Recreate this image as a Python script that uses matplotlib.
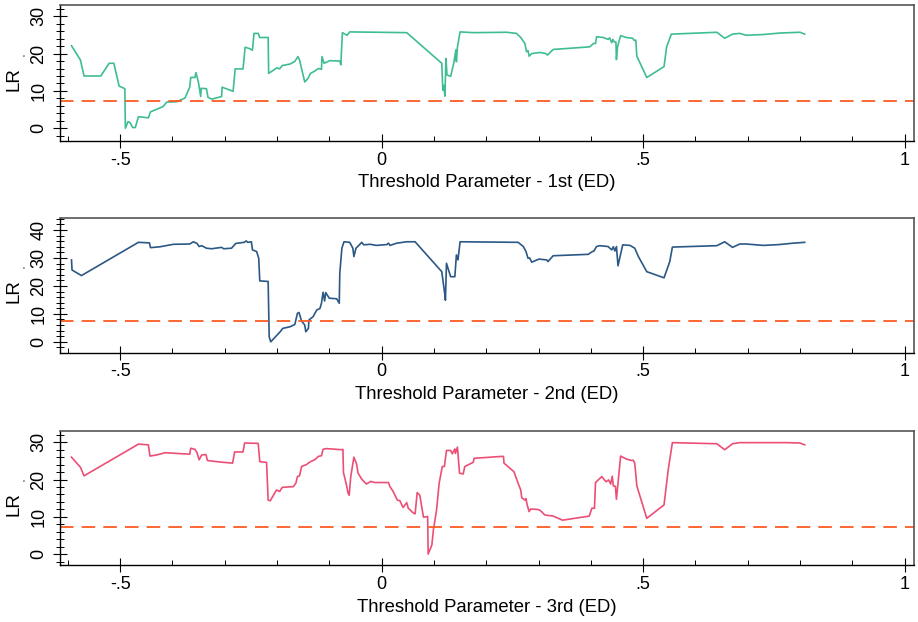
import matplotlib
matplotlib.use("Agg")
import matplotlib.pyplot as plt
from matplotlib.ticker import MultipleLocator, FixedLocator

plt.rcParams['font.family'] = ['Liberation Sans', 'DejaVu Sans']

# ---------------- data ----------------
crit = 7.35

x1 = [-0.593, -0.576, -0.569, -0.537, -0.521, -0.512, -0.502, -0.491, -0.490, -0.485, -0.481,
      -0.476, -0.471, -0.465, -0.446, -0.442, -0.430, -0.418, -0.411, -0.392, -0.376, -0.367,
      -0.365, -0.357, -0.355, -0.350, -0.346, -0.345, -0.335, -0.332, -0.325, -0.306, -0.305,
      -0.284, -0.280, -0.265, -0.261, -0.252, -0.247, -0.244, -0.236, -0.233, -0.217, -0.216,
      -0.200, -0.195, -0.190, -0.175, -0.166, -0.160, -0.157, -0.147, -0.141, -0.136, -0.128,
      -0.121, -0.115, -0.114, -0.110, -0.099, -0.080, -0.078, -0.075, -0.066, -0.061, 0.048,
      0.115, 0.117, 0.119, 0.121, 0.123, 0.125, 0.132, 0.138, 0.142, 0.143, 0.145, 0.150,
      0.175, 0.239, 0.258, 0.266, 0.274, 0.277, 0.280, 0.282, 0.287, 0.303, 0.314, 0.317,
      0.328, 0.398, 0.405, 0.409, 0.411, 0.424, 0.433, 0.436, 0.440, 0.442, 0.445, 0.448,
      0.449, 0.451, 0.457, 0.468, 0.480, 0.483, 0.486, 0.488, 0.507, 0.540, 0.545, 0.554,
      0.641, 0.656, 0.671, 0.685, 0.697, 0.730, 0.762, 0.800, 0.809]
y1 = [22.1, 18.3, 14.0, 14.0, 17.4, 17.4, 11.3, 10.6, 0.0, 1.8, 1.5,
      0.2, 0.2, 3.1, 2.8, 4.4, 5.1, 5.8, 7.0, 7.1, 8.1, 11.0,
      13.6, 13.6, 14.9, 12.1, 8.5, 10.7, 10.6, 8.3, 7.8, 8.5, 11.0,
      9.9, 15.9, 15.9, 21.7, 21.3, 20.9, 25.4, 25.4, 24.3, 24.3, 14.7,
      16.2, 15.9, 16.8, 17.2, 17.9, 19.2, 18.3, 12.4, 13.3, 14.7, 15.3,
      16.0, 15.8, 19.2, 17.4, 18.1, 18.0, 17.0, 25.6, 24.9, 25.8, 25.6,
      17.4, 10.2, 11.5, 8.6, 18.7, 14.3, 13.9, 17.5, 21.0, 17.8, 21.8, 25.8,
      25.6, 25.7, 25.4, 24.3, 22.7, 20.5, 20.8, 19.3, 20.0, 20.3, 20.0, 19.6,
      21.1, 21.8, 22.7, 22.7, 24.5, 24.3, 23.8, 24.2, 22.9, 23.8, 23.1, 23.1,
      18.4, 21.8, 24.8, 24.3, 24.1, 23.5, 23.6, 19.3, 13.6, 16.5, 21.8, 25.2,
      25.7, 24.1, 25.2, 25.4, 24.9, 25.1, 25.5, 25.7, 25.2]

x2 = [-0.593, -0.592, -0.574, -0.465, -0.444, -0.442, -0.424, -0.398, -0.367, -0.360, -0.353,
      -0.349, -0.344, -0.335, -0.325, -0.306, -0.302, -0.287, -0.279, -0.263, -0.259, -0.256,
      -0.249, -0.247, -0.239, -0.235, -0.233, -0.217, -0.215, -0.212, -0.207, -0.201, -0.194,
      -0.189, -0.175, -0.166, -0.161, -0.158, -0.153, -0.147, -0.145, -0.140, -0.139, -0.131,
      -0.124, -0.118, -0.115, -0.112, -0.109, -0.107, -0.100, -0.086, -0.081, -0.080, -0.076,
      -0.072, -0.061, -0.055, -0.053, -0.049, -0.041, -0.038, -0.034, -0.022, -0.010, 0.010,
      0.013, 0.016, 0.029, 0.048, 0.064, 0.115, 0.118, 0.121, 0.122, 0.124, 0.132, 0.140,
      0.143, 0.146, 0.150, 0.261, 0.271, 0.276, 0.280, 0.283, 0.287, 0.301, 0.316, 0.318,
      0.328, 0.395, 0.403, 0.406, 0.411, 0.417, 0.433, 0.440, 0.443, 0.446, 0.449, 0.452,
      0.461, 0.475, 0.484, 0.491, 0.507, 0.540, 0.551, 0.556, 0.641, 0.656, 0.671, 0.685,
      0.697, 0.730, 0.760, 0.787, 0.809]
y2 = [29.3, 25.7, 23.7, 35.6, 35.4, 33.7, 34.0, 34.9, 35.0, 35.8, 35.2,
      34.1, 34.4, 33.5, 33.3, 33.8, 33.3, 33.5, 35.2, 35.6, 36.1, 35.6,
      35.8, 32.9, 32.3, 29.9, 21.8, 21.6, 1.8, 0.0, 1.0, 2.2, 3.6,
      4.8, 5.4, 6.2, 10.2, 10.5, 7.4, 6.0, 3.6, 4.8, 7.8, 9.0,
      11.4, 11.9, 13.8, 17.7, 14.6, 17.6, 15.6, 15.4, 13.8, 24.5, 33.5,
      35.8, 35.6, 33.5, 30.5, 33.5, 35.0, 35.6, 34.7, 34.9, 34.5, 34.8,
      35.3, 34.5, 35.3, 35.8, 35.8, 25.1, 20.9, 16.7, 14.9, 28.1, 23.3, 23.3,
      31.1, 29.3, 35.8, 35.6, 34.1, 32.3, 29.9, 30.0, 28.5, 29.6, 29.3, 28.7,
      30.8, 31.3, 32.3, 32.5, 34.1, 34.4, 34.1, 32.9, 34.0, 32.5, 34.1, 27.2,
      34.7, 34.5, 33.5, 30.5, 25.1, 22.9, 28.7, 33.9, 34.4, 35.8, 33.8, 35.0,
      35.0, 34.5, 34.8, 35.3, 35.6]

x3 = [-0.593, -0.576, -0.569, -0.465, -0.446, -0.443, -0.430, -0.414, -0.367, -0.365, -0.357,
      -0.353, -0.349, -0.344, -0.336, -0.333, -0.309, -0.285, -0.281, -0.265, -0.262, -0.236,
      -0.233, -0.220, -0.217, -0.213, -0.201, -0.195, -0.190, -0.169, -0.164, -0.161, -0.157,
      -0.153, -0.144, -0.136, -0.128, -0.121, -0.115, -0.112, -0.106, -0.076, -0.074, -0.073,
      -0.068, -0.064, -0.062, -0.059, -0.053, -0.048, -0.045, -0.038, -0.034, -0.029, -0.021,
      -0.013, 0.013, 0.016, 0.022, 0.030, 0.035, 0.041, 0.048, 0.051, 0.060, 0.064,
      0.068, 0.073, 0.080, 0.088, 0.089, 0.096, 0.099, 0.105, 0.110, 0.116, 0.120,
      0.124, 0.132, 0.135, 0.140, 0.141, 0.145, 0.149, 0.156, 0.159, 0.175, 0.177,
      0.229, 0.233, 0.234, 0.253, 0.261, 0.266, 0.268, 0.274, 0.276, 0.278, 0.282, 0.285,
      0.296, 0.301, 0.305, 0.312, 0.328, 0.346, 0.397, 0.402, 0.407, 0.409, 0.421, 0.429,
      0.434, 0.438, 0.441, 0.443, 0.447, 0.449, 0.457, 0.468, 0.478, 0.481, 0.484, 0.488,
      0.507, 0.540, 0.548, 0.556, 0.641, 0.656, 0.671, 0.685, 0.730, 0.774, 0.800, 0.809]
y3 = [26.0, 23.3, 21.0, 29.5, 29.3, 26.3, 26.6, 27.2, 26.8, 28.4, 28.1,
      27.2, 25.3, 26.6, 26.7, 25.1, 24.7, 24.4, 27.4, 27.4, 29.8, 29.7,
      24.8, 24.6, 14.5, 14.3, 17.2, 16.8, 17.9, 18.1, 19.0, 20.8, 21.0,
      23.5, 24.0, 24.8, 25.3, 26.2, 26.4, 28.1, 28.3, 28.0, 28.1, 21.9,
      19.0, 16.3, 15.8, 20.8, 26.0, 24.2, 21.7, 20.1, 19.5, 18.8, 19.5,
      19.2, 19.2, 18.1, 16.8, 14.5, 14.3, 12.5, 13.8, 12.3, 11.1, 10.8,
      16.5, 15.8, 9.9, 10.1, 0.0, 2.4, 6.5, 11.8, 19.0, 23.5, 23.5,
      27.8, 27.8, 26.9, 28.2, 27.0, 28.7, 21.7, 21.5, 23.5, 24.6, 25.7,
      26.2, 26.2, 24.4, 22.1, 19.0, 17.2, 15.1, 14.5, 14.9, 13.4, 11.4, 12.1,
      12.0, 11.9, 11.5, 10.5, 10.2, 9.1, 10.2, 12.3, 12.3, 19.2, 20.8, 19.4,
      19.9, 18.8, 20.9, 18.3, 18.2, 14.7, 26.3, 25.5, 25.1, 25.2, 24.4, 18.3,
      9.6, 13.2, 22.6, 29.9, 29.6, 28.0, 29.6, 29.9, 29.9, 29.9, 29.8, 29.3]

series = [(x1, y1), (x2, y2), (x3, y3)]
colors = ['#3fbd92', '#2b5884', '#ec4f76']
xlabels = ['Threshold Parameter - 1st (ED)', 'Threshold Parameter - 2nd (ED)',
           'Threshold Parameter - 3rd (ED)']
ylims = [(-3.4, 33.0), (-3.9, 44.2), (-3.0, 33.1)]
yticks = [[0, 10, 20, 30], [0, 10, 20, 30, 40], [0, 10, 20, 30]]
xticks = [-0.5, 0, 0.5, 1]
xticklabels = ['-.5', '0', '.5', '1']
crit_color = '#fb5a22'

# ---------------- layout (pixels) ----------------
W, H = 918, 622
fig = plt.figure(figsize=(W / 100, H / 100), dpi=100)
fig.patch.set_facecolor('white')
boxes = [(5, 141), (218.3, 352.7), (430.7, 565.3)]
L, R = 60, 914

for i, ((xs, ys), (top, bot)) in enumerate(zip(series, boxes)):
    ax = fig.add_axes([L / W, 1 - bot / H, (R - L) / W, (bot - top) / H])
    ax.plot(xs, ys, color=colors[i], lw=1.2, solid_joinstyle='round')
    ax.axhline(crit, color=crit_color, lw=1.3, dashes=(7.5, 4.5))
    ax.set_xlim(-0.615, 1.018)
    ax.set_ylim(*ylims[i])
    ax.xaxis.set_major_locator(FixedLocator(xticks))
    ax.set_xticklabels(xticklabels)
    ax.xaxis.set_minor_locator(MultipleLocator(0.1))
    ax.yaxis.set_major_locator(FixedLocator(yticks[i]))
    ax.yaxis.set_minor_locator(MultipleLocator(2))
    ax.tick_params(axis='both', which='major', direction='inout', length=9.5, width=0.8,
                   colors='black')
    ax.tick_params(axis='x', which='major', labelsize=13, pad=3)
    ax.tick_params(axis='y', which='major', labelsize=13, pad=4.5, labelrotation=90)
    ax.tick_params(axis='x', which='minor', direction='in', length=3.5, width=0.7)
    ax.tick_params(axis='y', which='minor', direction='inout', length=5.5, width=0.7)
    for lab in ax.get_yticklabels():
        lab.set_va('center')
    for s in ['left', 'bottom']:
        ax.spines[s].set_color('black')
        ax.spines[s].set_linewidth(1.0)
    for s in ['top', 'right']:
        ax.spines[s].set_color('#555555')
        ax.spines[s].set_linewidth(1.2)
    ax.set_xlabel(xlabels[i], fontsize=13.3, labelpad=4)
    mid = (top + bot) / 2
    fig.text(14 / W, 1 - (mid + 6) / H, 'LR', rotation=90, fontsize=13.5,
             ha='center', va='center')
    fig.text(24.5 / W, 1 - (mid - 18) / H, 'n', rotation=90, fontsize=2.5,
             ha='center', va='center')

fig.savefig('out.png', dpi=100, facecolor='white')
